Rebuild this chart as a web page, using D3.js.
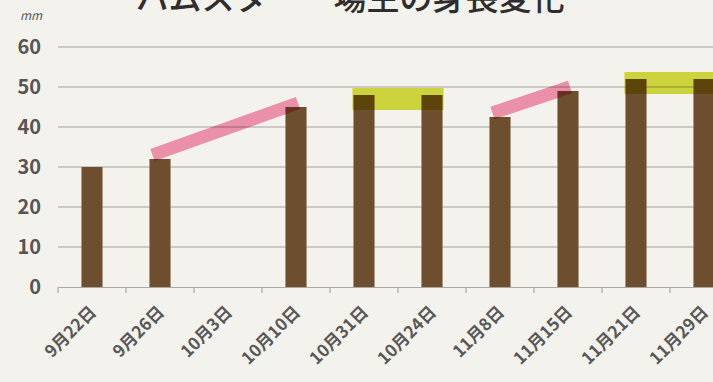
<!DOCTYPE html>
<html>
<head>
<meta charset="utf-8">
<script src="https://cdn.jsdelivr.net/npm/d3@7"></script>
<style>
  html, body { margin: 0; padding: 0; background: #f4f2ed; }
  svg { display: block; }
  text { font-family: "Noto Sans CJK JP", "Noto Sans", sans-serif; }
</style>
</head>
<body>
<svg id="chart" width="713" height="382"></svg>
<script>
// Measurement dates (x categories)
const dates = ["9月22日", "9月26日", "10月3日", "10月10日", "10月31日",
               "10月24日", "11月8日", "11月15日", "11月21日", "11月29日"];
// Height in mm for each date (no measurement on 10月3日)
const heights = [30, 32, null, 45, 48, 48, 42.5, 49, 52, 52];
// Y axis ticks
const yTicks = [0, 10, 20, 30, 40, 50, 60];
// Highlighter strokes drawn across pairs of dates
const pinkSpans = [["9月26日", "10月10日"], ["11月8日", "11月15日"]];
const yellowSpans = [["10月31日", "10月24日"], ["11月21日", "11月29日"]];

const titleText = "ハムスター一場生の身長変化";
const unitText = "mm";

const W = 713, H = 382;
const svg = d3.select("#chart");

svg.append("rect").attr("width", W).attr("height", H).attr("fill", "#f4f2ed");

const x = d3.scaleBand().domain(dates).range([58, 738]).padding(0);
const y = d3.scaleLinear().domain([0, 60]).range([287, 47]);
const barW = x.bandwidth() * 0.31;
const cx = d => x(d) + x.bandwidth() / 2;
const val = d => heights[dates.indexOf(d)];

// Title (top part runs past the page edge)
svg.append("text")
  .attr("x", 350).attr("y", 10)
  .attr("text-anchor", "middle")
  .attr("font-size", 33).attr("font-weight", 500)
  .attr("fill", "#2e2e2e")
  .text(titleText);

// Unit label
svg.append("text")
  .attr("x", 20).attr("y", 20)
  .attr("font-size", 12).attr("font-style", "italic")
  .attr("fill", "#555")
  .text(unitText);

// Horizontal gridlines
svg.append("g")
  .selectAll("line")
  .data(yTicks.filter(t => t > 0))
  .join("line")
  .attr("x1", 58).attr("x2", W)
  .attr("y1", d => y(d)).attr("y2", d => y(d))
  .attr("stroke", "#a3a19c").attr("stroke-width", 1.2);

// Y axis labels
svg.append("g")
  .selectAll("text")
  .data(yTicks)
  .join("text")
  .attr("x", 41).attr("y", d => y(d))
  .attr("dy", "0.36em")
  .attr("text-anchor", "end")
  .attr("font-size", 20).attr("font-weight", 600)
  .attr("fill", "#555")
  .text(d => d);

// X axis baseline with tick marks between categories
const xAxis = d3.axisBottom(x).tickSize(0).tickFormat("");
const gx = svg.append("g").attr("transform", `translate(0,${y(0)})`).call(xAxis);
gx.select(".domain").attr("stroke", "#aaa8a3").attr("stroke-width", 1.2);
gx.selectAll(".tick").remove();
gx.selectAll("line.sep")
  .data(dates)
  .join("line")
  .attr("class", "sep")
  .attr("x1", d => x(d)).attr("x2", d => x(d))
  .attr("y1", 0).attr("y2", 6)
  .attr("stroke", "#aaa8a3").attr("stroke-width", 1.2);

// Bars
svg.append("g")
  .selectAll("rect")
  .data(dates.filter(d => val(d) != null))
  .join("rect")
  .attr("x", d => cx(d) - barW / 2)
  .attr("y", d => y(val(d)))
  .attr("width", barW)
  .attr("height", d => y(0) - y(val(d)))
  .attr("fill", "#6d4e2f");

// Highlighter marks
const marks = svg.append("g").style("mix-blend-mode", "multiply");

marks.selectAll("line.pink")
  .data(pinkSpans)
  .join("line")
  .attr("class", "pink")
  .attr("x1", d => cx(d[0]) - barW / 2 + 3)
  .attr("y1", d => y(val(d[0])) - 4)
  .attr("x2", d => cx(d[1]) + 2)
  .attr("y2", d => y(val(d[1])) - 4)
  .attr("stroke", "#f486aa")
  .attr("stroke-width", 13)
  .attr("opacity", 0.85);

marks.selectAll("rect.yellow")
  .data(yellowSpans)
  .join("rect")
  .attr("class", "yellow")
  .attr("x", d => cx(d[0]) - barW / 2 - 1)
  .attr("y", d => y(val(d[0])) - 7)
  .attr("width", d => cx(d[1]) - cx(d[0]) + barW + 2)
  .attr("height", 22)
  .attr("fill", "#d2dc2c")
  .attr("opacity", 0.9);

// Rotated date labels
svg.append("g")
  .selectAll("text")
  .data(dates)
  .join("text")
  .attr("transform", d => `translate(${cx(d) + 1},${y(0) + 22}) rotate(-45)`)
  .attr("text-anchor", "end")
  .attr("dy", "0.35em")
  .attr("font-size", 17).attr("font-weight", 700)
  .attr("fill", "#585858")
  .text(d => d);
</script>
</body>
</html>
